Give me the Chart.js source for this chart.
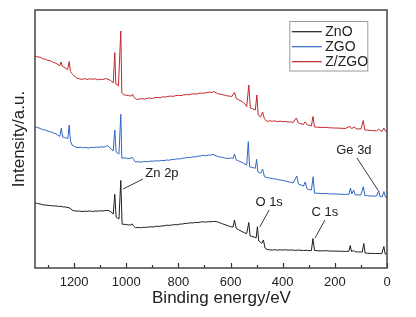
<!DOCTYPE html>
<html>
<head>
<meta charset="utf-8">
<script src="https://cdn.jsdelivr.net/npm/chart.js@4.4.0/dist/chart.umd.min.js"></script>
<style>
html,body{margin:0;padding:0;background:#fff;}
#c{display:block;}
</style>
</head>
<body>
<canvas id="c" width="416" height="317" style="width:416px;height:317px"></canvas>
<script>
// Binding energy (eV) / intensity (a.u.) pairs
const seriesLabels = ['ZnO', 'ZGO', 'Z/ZGO'];
const seriesColors = ['#1e1e1e', '#2f66c4', '#c2282b'];
const xTickValues = [0, 200, 400, 600, 800, 1000, 1200];

const znoSpectrum = [
[1350,65.3],[1340,64.4],[1330,64],[1320,63.2],[1310,63],[1300,62.6],[1290,62.5],[1280,62],[1270,62.1],[1260,61.6],[1250,61.6],[1240,61],[1235,61.2],[1228,60.6],[1220,60.4],[1212,59],[1205,57.5],[1198,57.2],[1190,56.8],[1180,57],[1170,56.4],[1160,56.9],[1150,56.6],[1140,57.1],[1130,56.5],[1120,57],[1110,56.8],[1100,57.2],[1090,57],[1080,57.4],[1070,57.6],[1064,57],[1058,56],[1050,54],[1044,73.7],[1039,51],[1034,50],[1028,49],[1021,87.5],[1016,43.7],[1010,43.8],[1000,43.4],[990,43],[982,43.2],[978,44.2],[972,42],[965,40.3],[955,40.6],[945,40.2],[935,40.7],[925,40.6],[915,41],[905,41.2],[895,41],[885,41.8],[875,41.6],[865,42],[855,42.2],[845,42.8],[835,42.6],[825,43],[815,43.4],[805,43.2],[795,43.9],[785,44],[775,44.5],[765,44.6],[755,45.2],[745,45],[735,45.6],[725,45.4],[715,46],[705,46.2],[695,45.8],[685,46.4],[675,46.2],[665,46.6],[655,46.5],[645,45.6],[635,44.6],[625,43.6],[615,42.8],[605,41.8],[598,41.2],[590,41],[585,48],[578,39.5],[570,38.4],[560,37],[550,35.6],[545,35],[538,34.5],[530,45.5],[525,32],[518,31.6],[510,31],[502,30],[497,41.3],[492,27],[486,25.8],[480,24.7],[474,28],[468,20],[460,18.5],[450,18.2],[440,18],[430,18.3],[420,17.9],[410,18.1],[400,18],[390,18.2],[380,17.8],[370,18],[360,17.9],[350,17.6],[340,18],[330,17.7],[320,17.5],[310,17.7],[300,17.4],[290,17.5],[284,29.5],[278,17.5],[265,17.2],[250,17.1],[235,17.3],[220,17],[200,16.9],[180,16.8],[160,16.6],[146,16.8],[141,22.5],[136,16.5],[128,17.5],[122,16.2],[110,16.1],[100,16],[95,16],[89,24.5],[84,15],[75,14.8],[60,14.6],[45,14.5],[30,14.5],[20,14.3],[12,21.5],[7,14],[0,14]
];

const zgoSpectrum = [
[1350,141.3],[1340,140.4],[1330,139.6],[1320,138.2],[1310,138],[1300,136.8],[1290,136.2],[1280,135],[1270,134.2],[1262,132.8],[1255,131.6],[1249,139.8],[1244,131],[1237,130.6],[1230,130],[1224,129.4],[1219,143],[1214,127],[1208,123],[1200,121.8],[1195,121],[1185,120.4],[1175,120.8],[1165,120.2],[1155,120.6],[1145,119.9],[1135,120.5],[1125,120.3],[1115,121],[1105,120.6],[1095,121.2],[1085,121],[1078,121.6],[1072,122.6],[1066,121],[1060,119.8],[1050,117],[1044,138],[1039,116],[1034,115],[1028,114],[1021,153.7],[1017,109.7],[1010,110.2],[1000,109.8],[990,109.4],[982,110],[978,110.8],[972,108.6],[965,106],[955,106.4],[945,105.8],[935,106.3],[925,106.6],[915,106.2],[905,107],[895,106.8],[885,107.3],[875,107],[865,107.6],[855,107.4],[845,108],[835,107.8],[825,108.5],[815,108.6],[805,109.2],[795,109],[785,109.8],[775,110],[765,110.6],[755,110.4],[745,111.2],[735,111],[725,111.8],[715,112],[705,112.6],[695,112.2],[685,113],[675,112.8],[668,113.6],[660,112.6],[650,111.6],[640,111],[630,110.6],[620,109.8],[610,109.6],[600,109.9],[590,109.6],[585,114],[578,108],[570,107.2],[560,106],[550,104.8],[545,104],[538,103],[532,126.3],[527,101],[520,100.8],[512,100.2],[505,99.7],[500,108.7],[495,96],[485,94.7],[477,99],[470,91.3],[460,90.4],[450,90],[440,89.5],[430,89],[420,88.6],[410,88],[400,87.6],[390,87],[380,86.4],[370,85.8],[360,85],[346,92],[340,84],[330,83],[320,82],[314,86],[306,79],[298,78.4],[290,78],[283,91.3],[278,74.7],[265,74.8],[250,74.4],[235,74.6],[220,74.1],[200,74],[180,73.8],[160,73.6],[146,73.8],[140,80],[135,74],[128,78],[122,73.2],[110,73.1],[100,73],[91,81.3],[85,72.5],[75,72.3],[60,72],[50,71.9],[40,72],[32,77.5],[27,71.5],[18,71.2],[12,76.5],[6,71],[0,70.6]
];

const zzgoSpectrum = [
[1350,212],[1340,211],[1330,210.8],[1320,209.2],[1310,208.8],[1300,207.5],[1290,207.2],[1280,205.6],[1270,204.8],[1262,203.4],[1255,202.5],[1250,206],[1245,201.5],[1240,201],[1235,200.2],[1230,199.2],[1225,198.4],[1219,206.5],[1214,196.5],[1210,194.8],[1205,193.6],[1200,192],[1195,191.2],[1190,189.8],[1180,189.2],[1170,188.6],[1160,189.4],[1150,188.5],[1140,189.3],[1130,188.7],[1120,189.2],[1110,188.2],[1100,188.9],[1090,188.4],[1080,189.4],[1070,188.8],[1060,187.4],[1050,185.2],[1044,215.5],[1040,184],[1035,183.2],[1030,182],[1021,237],[1017,175],[1010,173.2],[1000,172.8],[990,172.3],[980,172],[976,173.8],[970,170.6],[960,168.6],[950,168.9],[940,169.4],[930,168.8],[920,169.6],[910,169.9],[900,169.5],[890,170.4],[880,170.6],[870,170.2],[860,171.2],[850,170.9],[840,171.6],[830,171.9],[820,171.6],[810,172.4],[800,172.6],[790,172.3],[780,173.1],[770,173.4],[760,173.2],[750,174],[740,174.2],[730,173.9],[720,174.7],[710,175],[700,174.8],[690,175.5],[680,175.8],[670,175.6],[665,176.4],[655,175.2],[650,174.4],[640,173.8],[630,173.2],[620,172.6],[610,172],[600,171.8],[595,171.4],[585,175.6],[578,169.4],[570,168.4],[560,167],[550,165.4],[545,164],[538,161.4],[530,183],[524,160],[515,159.2],[505,158],[499,173],[494,153],[485,151],[477,156],[470,149],[460,146.6],[450,147.2],[440,146.8],[430,147.1],[420,146.4],[410,146.8],[400,146.3],[390,146.6],[380,145.9],[370,146.2],[360,145.4],[348,150],[340,145],[330,144.2],[320,143.6],[314,146.2],[305,143],[295,142.6],[290,142],[284,151.5],[278,141],[265,140.8],[250,140.4],[235,140.7],[220,140.2],[200,140],[180,139.8],[160,139.5],[142,141.6],[136,139.4],[125,141],[118,139],[110,139.2],[100,138.9],[91,147.5],[85,138],[75,137.8],[60,137.5],[50,137.3],[40,137],[32,139],[25,137],[18,136.8],[12,140],[5,136.5],[0,136.6]
];

// peak annotations: text position and leader line, in data units
const peakLabels = [
  {text:'Zn 2p', at:[863, 95], line:[[1012,79],[936,89]]},
  {text:'O 1s',  at:[452, 66], line:[[452,58],[488,41]]},
  {text:'C 1s',  at:[238, 56], line:[[238,48],[276,30]]},
  {text:'Ge 3d', at:[127,118], line:[[115,110],[35,78]]}
];

const FONT = "'Liberation Sans', Arial, Helvetica, sans-serif";
Chart.defaults.font.family = FONT;
Chart.defaults.color = '#222';

const toPts = arr => arr.map(p => ({x:p[0], y:p[1]}));

const decor = {
  id:'decor',
  afterDraw(chart){
    const {ctx, chartArea:a, scales:{x, y}} = chart;
    ctx.save();
    // inward ticks
    ctx.strokeStyle = '#333'; ctx.lineWidth = 1.2;
    for (let v = 0; v <= 1300; v += 100){
      const px = Math.round(x.getPixelForValue(v)) + 0.5;
      const len = (v % 200 === 0) ? 5 : 3;
      ctx.beginPath(); ctx.moveTo(px, a.bottom); ctx.lineTo(px, a.bottom - len); ctx.stroke();
    }
    // frame
    ctx.strokeStyle = '#444'; ctx.lineWidth = 1.5;
    ctx.strokeRect(a.left, a.top, a.right - a.left, a.bottom - a.top);
    // x-axis title
    ctx.fillStyle = '#222';
    ctx.font = '17px ' + FONT;
    ctx.textAlign = 'center'; ctx.textBaseline = 'middle';
    ctx.fillText('Binding energy/eV', x.getPixelForValue(700) + 17, 298);
    // peak labels
    ctx.font = '13px ' + FONT;
    ctx.strokeStyle = '#222'; ctx.lineWidth = 0.9;
    peakLabels.forEach(l => {
      ctx.fillText(l.text, x.getPixelForValue(l.at[0]), y.getPixelForValue(l.at[1]));
      ctx.beginPath();
      ctx.moveTo(x.getPixelForValue(l.line[0][0]), y.getPixelForValue(l.line[0][1]));
      ctx.lineTo(x.getPixelForValue(l.line[1][0]), y.getPixelForValue(l.line[1][1]));
      ctx.stroke();
    });
    // legend box
    const bx = a.right - 97.7, by = a.top + 11;
    ctx.strokeStyle = '#999'; ctx.lineWidth = 1;
    ctx.strokeRect(bx + 0.5, by + 0.5, 78, 49.5);
    ctx.font = '14px ' + FONT;
    ctx.textAlign = 'left';
    chart.data.datasets.forEach((ds, i) => {
      const ly = by + 10.7 + i * 15;
      ctx.strokeStyle = ds.borderColor; ctx.lineWidth = 1.2;
      ctx.beginPath(); ctx.moveTo(bx + 2.5, ly); ctx.lineTo(bx + 32.5, ly); ctx.stroke();
      ctx.fillStyle = '#222';
      ctx.fillText(ds.label, bx + 36, ly + 0.5);
    });
    ctx.restore();
  }
};

const spectra = [znoSpectrum, zgoSpectrum, zzgoSpectrum];

new Chart(document.getElementById('c'), {
  type:'line',
  data:{
    datasets: spectra.map((s, i) => ({
      label: seriesLabels[i],
      data: toPts(s),
      borderColor: seriesColors[i],
      borderWidth: 1,
      pointRadius: 0,
      tension: 0,
      fill: false
    }))
  },
  options:{
    responsive:false,
    animation:false,
    layout:{padding:{top:10, right:29, left:0, bottom:0}},
    plugins:{legend:{display:false}, tooltip:{enabled:false}},
    scales:{
      x:{
        type:'linear', reverse:true, min:0, max:1350,
        afterBuildTicks: s => { s.ticks = xTickValues.map(v => ({value:v})); },
        ticks:{font:{size:13}, color:'#222', padding:7, maxRotation:0, autoSkip:false, includeBounds:false,
               callback: v => String(v)},
        grid:{display:false, drawTicks:false},
        border:{display:false},
        afterFit: s => { s.height = 49; }
      },
      y:{
        min:0, max:258,
        ticks:{display:false},
        grid:{display:false, drawTicks:false},
        border:{display:false},
        title:{display:true, text:'Intensity/a.u.', font:{size:17}, color:'#222', padding:{top:9, bottom:0}},
        afterFit: s => { s.width = 35; }
      }
    }
  },
  plugins:[decor]
});
</script>
</body>
</html>
